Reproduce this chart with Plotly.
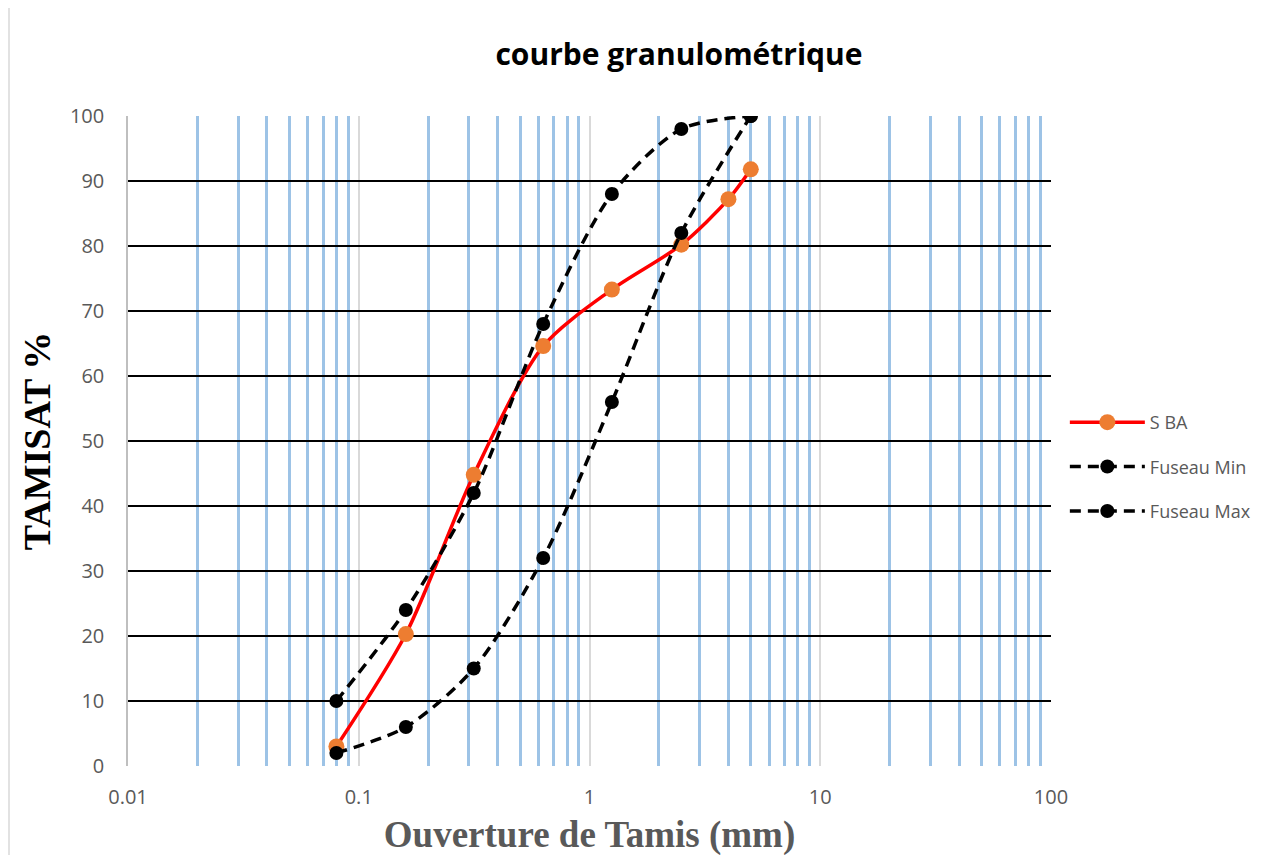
import plotly.graph_objects as go

sieves = [0.08, 0.16, 0.315, 0.63, 1.25, 2.5, 4, 5]
s_ba = [3.0, 20.3, 44.8, 64.6, 73.3, 80.2, 87.2, 91.8]

fuseau_sieves = [0.08, 0.16, 0.315, 0.63, 1.25, 2.5, 5]
fuseau_min = [2, 6, 15, 32, 56, 82, 100]
fuseau_max = [10, 24, 42, 68, 88, 98, 100]

y_ticks = list(range(0, 101, 10))

GREY_TXT = "#595959"
SANS = "Open Sans, Lato, sans-serif"
SERIF = "Liberation Serif, Times New Roman, serif"

fig = go.Figure()
fig.add_trace(go.Scatter(
    x=sieves, y=s_ba, name="S BA", mode="lines+markers", legendgroup="a",
    line=dict(color="#FF0000", width=3.5, shape="spline", smoothing=0.8),
    marker=dict(color="#ED7D31", size=16),
))
fig.add_trace(go.Scatter(
    x=fuseau_sieves, y=fuseau_min, name="Fuseau Min", mode="lines+markers", legendgroup="b",
    line=dict(color="black", width=3.5, dash="11px,7px", shape="spline", smoothing=0.8),
    marker=dict(color="black", size=14),
))
fig.add_trace(go.Scatter(
    x=fuseau_sieves, y=fuseau_max, name="Fuseau Max", mode="lines+markers", legendgroup="c",
    line=dict(color="black", width=3.5, dash="11px,7px", shape="spline", smoothing=0.8),
    marker=dict(color="black", size=14),
))

fig.update_xaxes(
    type="log", range=[-2, 2], dtick=1,
    showgrid=True, gridcolor="#D9D9D9", gridwidth=1.5,
    minor=dict(showgrid=True, gridcolor="#9DC3E6", gridwidth=3, dtick="D1"),
    tickfont=dict(family=SANS, size=20, color=GREY_TXT),
    ticks="", ticklabelstandoff=17, zeroline=False, showline=False,
    title=dict(text="<b>Ouverture de Tamis (mm)</b>", standoff=12,
               font=dict(family=SERIF, size=37, color=GREY_TXT)),
)
fig.update_yaxes(
    range=[0, 100], tickvals=y_ticks,
    showgrid=True, gridcolor="black", gridwidth=1.5,
    showline=True, linecolor="#BFBFBF", linewidth=1.5,
    tickfont=dict(family=SANS, size=20, color=GREY_TXT),
    ticks="", ticklabelstandoff=18, zeroline=False,
    title=dict(text="<b>TAMISAT %</b>", standoff=8,
               font=dict(family=SERIF, size=38, color="black")),
)

fig.update_layout(
    width=1285, height=855,
    paper_bgcolor="white", plot_bgcolor="white",
    margin=dict(l=120, r=242, t=108, b=97),
    title=dict(text="<b>courbe granulométrique</b>", x=671 / 1285, xanchor="center", y=1 - 46 / 855,
               yanchor="middle", font=dict(family=SANS, size=30, color="black")),
    legend=dict(x=1.015, y=0.557, xanchor="left", yanchor="top",
                font=dict(family=SANS, size=18, color=GREY_TXT),
                tracegroupgap=18, itemwidth=75),
    showlegend=True,
)
fig.add_shape(type="line", xref="paper", yref="paper", x0=-119 / 923, x1=-119 / 923,
              y0=-97 / 650, y1=1 + 108 / 650, line=dict(color="#D9D9D9", width=1.5))

fig.write_html("out.html")
